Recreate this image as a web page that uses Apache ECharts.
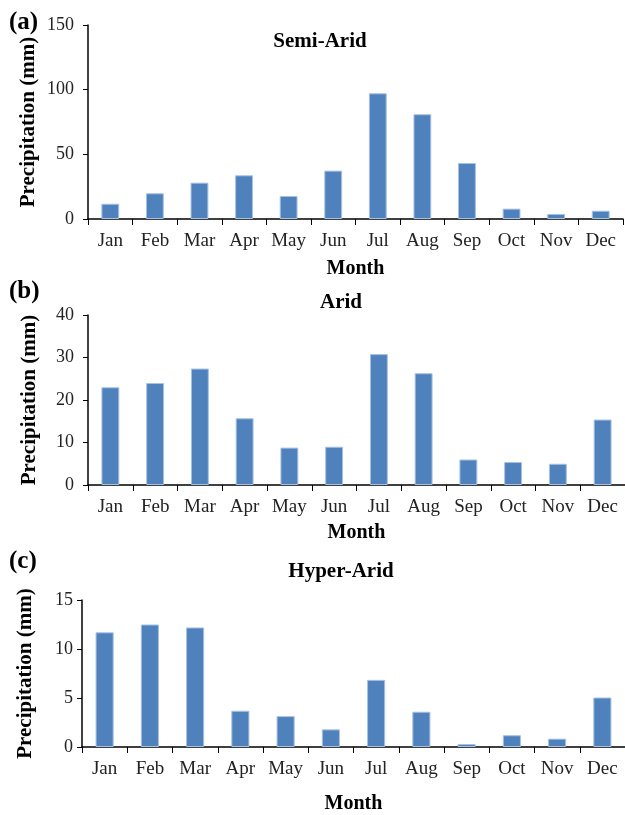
<!DOCTYPE html>
<html>
<head>
<meta charset="utf-8">
<script src="https://cdn.jsdelivr.net/npm/echarts@6/dist/echarts.min.js"></script>
<style>
	html, body { margin: 0; padding: 0; background: #fff; }
	#main { width: 625px; height: 815px; }
</style>
</head>
<body>
<div id="main"></div>
<script>
	// 月份
	var months = ['Jan', 'Feb', 'Mar', 'Apr', 'May', 'Jun', 'Jul', 'Aug', 'Sep', 'Oct', 'Nov', 'Dec'];
	// 三个区域的月降水量 (mm)
	var semiArid = [11.8, 19.9, 28.1, 33.8, 17.8, 37.4, 97.2, 81.0, 43.3, 8.0, 3.9, 6.4];
	var arid = [23.0, 24.0, 27.4, 15.7, 8.8, 9.0, 30.8, 26.3, 6.0, 5.4, 5.0, 15.4];
	var hyperArid = [11.7, 12.5, 12.2, 3.7, 3.15, 1.8, 6.85, 3.6, 0.3, 1.2, 0.85, 5.05];
	// 纵轴刻度
	var yMax = [150, 40, 15];
	var yStep = [50, 10, 5];
	var panelTitles = ['Semi-Arid', 'Arid', 'Hyper-Arid'];
	var panelTags = ['(a)', '(b)', '(c)'];

	var FONT = '"Liberation Serif", "Times New Roman", serif';
	var grids = [
		{ left: 88, right: 2, top: 25, height: 194 },
		{ left: 88, right: 0, top: 315, height: 170 },
		{ left: 82, right: 0, top: 600, height: 154 }
	];
	var monthGap = [40, 38, 47];
	var precipGap = [49, 48, 46];
	var yLabelMargin = [14, 14, 9];
	var seriesData = [semiArid, arid, hyperArid];

	var xAxes = [], yAxes = [], series = [];
	grids.forEach(function (g, i) {
		xAxes.push({
			type: 'category',
			gridIndex: i,
			data: months,
			name: 'Month',
			nameLocation: 'middle',
			nameGap: monthGap[i],
			nameTextStyle: { fontFamily: FONT, fontWeight: 'bold', fontSize: 20, color: '#000' },
			axisLine: { lineStyle: { color: '#000', width: 1.5 } },
			axisTick: { show: true, interval: 0, alignWithLabel: false, length: 6, lineStyle: { color: '#000' } },
			axisLabel: { interval: 0, hideOverlap: false, fontFamily: FONT, fontSize: 19, color: '#222', margin: 13 }
		});
		yAxes.push({
			type: 'value',
			gridIndex: i,
			min: 0,
			max: yMax[i],
			interval: yStep[i],
			name: 'Precipitation (mm)',
			nameLocation: 'middle',
			nameRotate: 90,
			nameGap: precipGap[i],
			nameMoveOverlap: false,
			nameTextStyle: { fontFamily: FONT, fontWeight: 'bold', fontSize: 21, color: '#000' },
			axisLine: { show: true, lineStyle: { color: '#000', width: 1.5 } },
			axisTick: { show: true, length: 5, lineStyle: { color: '#000' } },
			axisLabel: { fontFamily: FONT, fontSize: 18, color: '#222', margin: yLabelMargin[i] },
			splitLine: { show: false }
		});
		series.push({
			type: 'bar',
			xAxisIndex: i,
			yAxisIndex: i,
			data: seriesData[i],
			barWidth: '40%',
			itemStyle: { color: '#4f81bd', borderColor: '#a7c1e2', borderWidth: 1 }
		});
	});

	// 标题与面板编号
	var titlePos = [[320, 42], [341, 303], [341, 572]];
	var tagPos = [[9, 23], [9, 292], [9, 562]];
	var graphics = [];
	titlePos.forEach(function (p, i) {
		graphics.push({
			type: 'text', x: p[0], y: p[1],
			style: { text: panelTitles[i], fontFamily: FONT, fontWeight: 'bold', fontSize: 21, fill: '#000', textAlign: 'center', textVerticalAlign: 'middle' }
		});
		graphics.push({
			type: 'text', x: tagPos[i][0], y: tagPos[i][1],
			style: { text: panelTags[i], fontFamily: FONT, fontWeight: 'bold', fontSize: 25, fill: '#000', textAlign: 'left', textVerticalAlign: 'middle' }
		});
	});

	var myChart = echarts.init(document.getElementById('main'));
	myChart.setOption({
		animation: false,
		backgroundColor: '#fff',
		grid: grids,
		xAxis: xAxes,
		yAxis: yAxes,
		series: series,
		graphic: graphics
	});
</script>
</body>
</html>
